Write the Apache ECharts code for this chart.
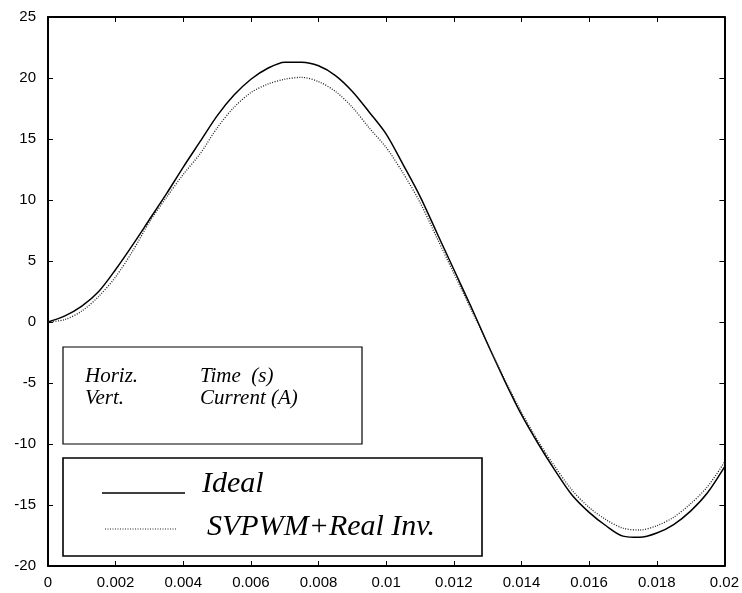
<!DOCTYPE html>
<html>
<head>
<meta charset="utf-8">
<script src="https://cdn.jsdelivr.net/npm/echarts@6/dist/echarts.min.js"></script>
<style>html,body{margin:0;padding:0;background:#fff}#c{width:742px;height:593px}</style>
</head>
<body>
<div id="c"></div>
<script>
// time (s)
var times = [0,0.0005,0.001,0.0015,0.002,0.0025,0.003,0.0035,0.004,0.0045,0.005,0.0055,0.006,0.0065,0.007,0.0075,0.008,0.0085,0.009,0.0095,0.01,0.0105,0.011,0.0115,0.012,0.0125,0.013,0.0135,0.014,0.0145,0.015,0.0155,0.016,0.0165,0.017,0.0175,0.018,0.0185,0.019,0.0195,0.02];
// current (A)
var ideal = [0,0.5,1.3,2.5,4.3,6.3,8.4,10.5,12.7,14.8,16.9,18.6,19.9,20.8,21.3,21.3,21.0,20.2,18.9,17.2,15.4,12.9,10.3,7.3,4.3,1.3,-1.8,-4.8,-7.6,-10.0,-12.2,-14.2,-15.6,-16.7,-17.55,-17.65,-17.3,-16.6,-15.5,-14.0,-11.9];
var svpwm = [0,0.2,0.9,2.1,3.7,5.8,8.2,10.2,12.1,13.8,15.9,17.6,18.8,19.5,19.9,20.05,19.7,18.9,17.6,15.9,14.3,12.2,9.8,6.9,4.0,1.1,-1.8,-4.7,-7.4,-9.8,-11.9,-13.8,-15.2,-16.2,-16.9,-17.05,-16.7,-16.0,-14.9,-13.5,-11.5];
var seriesNames = ['Ideal','SVPWM+Real Inv.'];
var infoLabels = [['Horiz.','Time  (s)'],['Vert.','Current (A)']];

function pairs(ys){ return times.map(function(t,i){ return [t, ys[i]]; }); }

var chart = echarts.init(document.getElementById('c'));
function axisCommon(){
  return {
    axisLine:{show:true,onZero:false,lineStyle:{color:'#000',width:2}},
    axisTick:{show:true,inside:true,length:5,lineStyle:{color:'#000',width:1}},
    splitLine:{show:false}
  };
}
var serif = '"Liberation Serif","DejaVu Serif",serif';
var sans = '"Liberation Sans",Arial,sans-serif';
chart.setOption({
  animation:false,
  backgroundColor:'#fff',
  grid:{left:48,top:17,right:14,bottom:27,containLabel:false},
  xAxis:[
    Object.assign({type:'value',min:0,max:0.02,interval:0.002,position:'bottom',
      axisLabel:{color:'#000',fontSize:15,fontFamily:sans,margin:9,
        formatter:function(v){return String(parseFloat(v.toFixed(4)));}}},axisCommon()),
    Object.assign({type:'value',min:0,max:0.02,interval:0.002,position:'top',axisLabel:{show:false}},axisCommon())
  ],
  yAxis:[
    Object.assign({type:'value',min:-20,max:25,interval:5,position:'left',
      axisLabel:{color:'#000',fontSize:15,fontFamily:sans,margin:12}},axisCommon()),
    Object.assign({type:'value',min:-20,max:25,interval:5,position:'right',axisLabel:{show:false}},axisCommon())
  ],
  series:[
    {name:seriesNames[0],type:'line',data:pairs(ideal),showSymbol:false,smooth:0.3,
      lineStyle:{color:'#000',width:1.5,type:'solid'}},
    {name:seriesNames[1],type:'line',data:pairs(svpwm),showSymbol:false,smooth:0.3,
      lineStyle:{color:'#222',width:1.3,type:[1,1.5]}}
  ],
  graphic:[
    {type:'rect',shape:{x:63,y:347,width:299,height:97},style:{fill:'#fff',stroke:'#000',lineWidth:1.2},z:100},
    {type:'text',x:85,y:376,style:{text:infoLabels[0][0],font:'italic 21px '+serif,fill:'#000',textVerticalAlign:'middle'},z:101},
    {type:'text',x:200,y:376,style:{text:infoLabels[0][1],font:'italic 21px '+serif,fill:'#000',textVerticalAlign:'middle'},z:101},
    {type:'text',x:85,y:398,style:{text:infoLabels[1][0],font:'italic 21px '+serif,fill:'#000',textVerticalAlign:'middle'},z:101},
    {type:'text',x:200,y:398,style:{text:infoLabels[1][1],font:'italic 21px '+serif,fill:'#000',textVerticalAlign:'middle'},z:101},
    {type:'rect',shape:{x:63,y:458,width:419,height:98},style:{fill:'#fff',stroke:'#000',lineWidth:1.6},z:100},
    {type:'line',shape:{x1:102,y1:493,x2:185,y2:493},style:{stroke:'#000',lineWidth:1.5},z:101},
    {type:'line',shape:{x1:105,y1:529,x2:177,y2:529},style:{stroke:'#222',lineWidth:1,lineDash:[1,1.5]},z:101},
    {type:'text',x:202,y:484,style:{text:seriesNames[0],font:'italic 30px '+serif,fill:'#000',textVerticalAlign:'middle'},z:101},
    {type:'text',x:207,y:527,style:{text:seriesNames[1],font:'italic 30px '+serif,fill:'#000',textVerticalAlign:'middle'},z:101}
  ]
});
</script>
</body>
</html>
